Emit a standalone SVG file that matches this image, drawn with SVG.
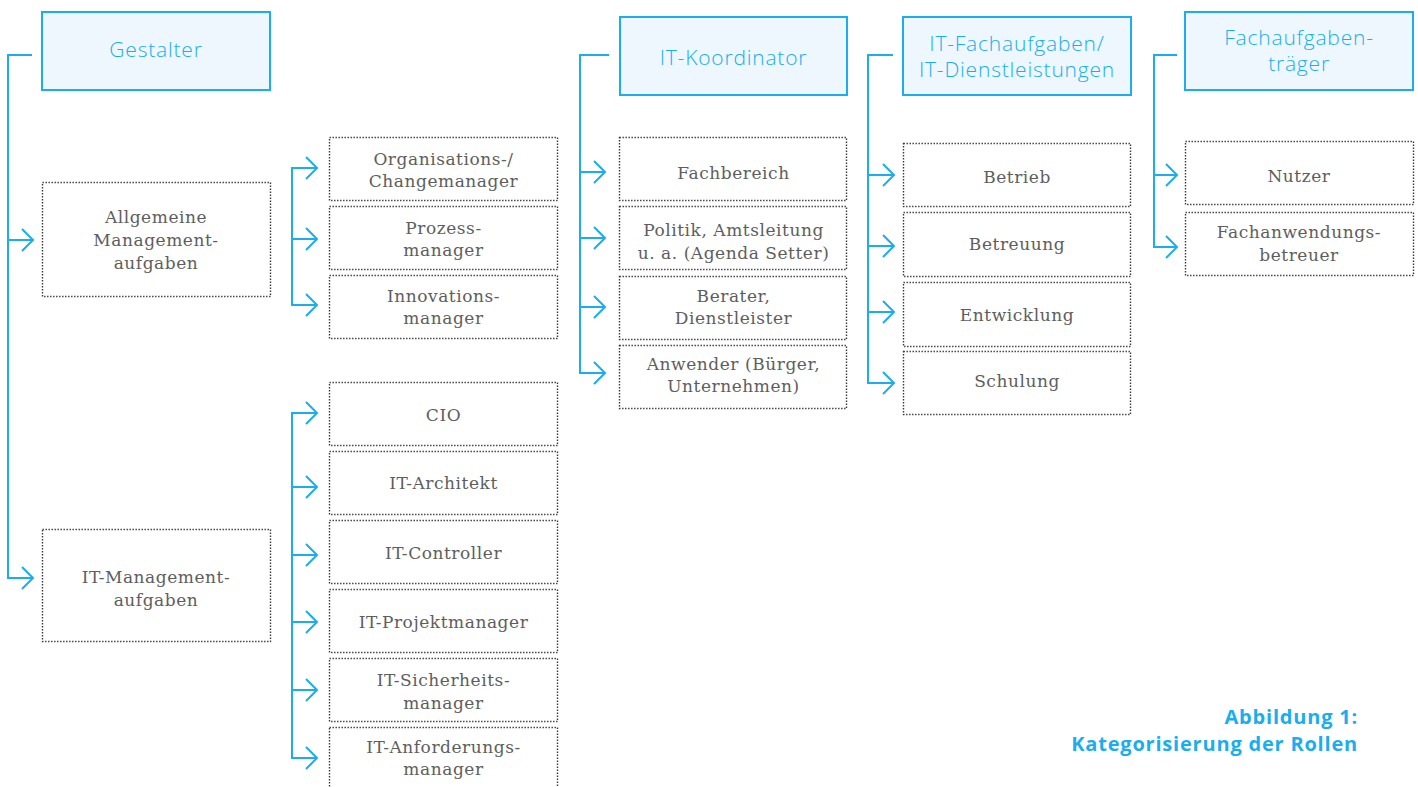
<svg xmlns="http://www.w3.org/2000/svg" width="1418" height="787" viewBox="0 0 1418 787">
<style>
.hdr rect{fill:#eef7fd;stroke:#1badee;stroke-width:2}
.hdr text{font-family:"Open Sans","Lato",sans-serif;font-weight:300;font-size:21px;letter-spacing:0.8px;fill:#1badee;text-anchor:middle}
.sub rect{fill:#fff;stroke:#3a3a3a;stroke-width:1.4;stroke-dasharray:1.4 1.6}
.sub text{font-family:"DejaVu Serif","Liberation Serif",serif;font-size:17px;letter-spacing:0.55px;fill:#5e5e5e;text-anchor:middle}
#connectors path{fill:none;stroke:#1badee;stroke-width:2}
.cap{font-family:"Open Sans","Lato",sans-serif;font-weight:700;font-size:20px;letter-spacing:0.8px;fill:#1badee;text-anchor:end}
</style>
<defs>
<marker id="arr" markerUnits="userSpaceOnUse" markerWidth="14" markerHeight="26" refX="12" refY="12" orient="auto" viewBox="0 0 14 26">
<path d="M1,1 L12,12 L1,23" fill="none" stroke="#1badee" stroke-width="2"/>
</marker>
</defs>
<rect width="1418" height="787" fill="#fff"/>

<g id="connectors">
<path d="M32,55 H8 V578 H33" marker-end="url(#arr)"/>
<path d="M8,240 H33" marker-end="url(#arr)"/>
<path d="M317,168 H292 V305 H317" marker-end="url(#arr)"/>
<path d="M292,168 H317" marker-end="url(#arr)"/>
<path d="M292,239 H317" marker-end="url(#arr)"/>
<path d="M317,413 H292 V758 H317" marker-end="url(#arr)"/>
<path d="M292,413 H317" marker-end="url(#arr)"/>
<path d="M292,487 H317" marker-end="url(#arr)"/>
<path d="M292,555 H317" marker-end="url(#arr)"/>
<path d="M292,622 H317" marker-end="url(#arr)"/>
<path d="M292,690 H317" marker-end="url(#arr)"/>
<path d="M609,55 H580 V373 H605" marker-end="url(#arr)"/>
<path d="M580,172 H605" marker-end="url(#arr)"/>
<path d="M580,238 H605" marker-end="url(#arr)"/>
<path d="M580,307 H605" marker-end="url(#arr)"/>
<path d="M893,55 H868 V383 H894" marker-end="url(#arr)"/>
<path d="M868,175 H894" marker-end="url(#arr)"/>
<path d="M868,246 H894" marker-end="url(#arr)"/>
<path d="M868,312 H894" marker-end="url(#arr)"/>
<path d="M1177,55 H1154 V247 H1177" marker-end="url(#arr)"/>
<path d="M1154,175 H1177" marker-end="url(#arr)"/>
</g>

<g id="gestalter" class="hdr"><rect x="42" y="12" width="228" height="78"/><text x="156" y="57">Gestalter</text></g>
<g id="it-koordinator" class="hdr"><rect x="620" y="17" width="227" height="78"/><text x="733.5" y="65">IT-Koordinator</text></g>
<g id="it-fachaufgaben" class="hdr"><rect x="903" y="17" width="228" height="78"/><text x="1017" y="51">IT-Fachaufgaben/</text><text x="1017" y="77">IT-Dienstleistungen</text></g>
<g id="fachaufgabentraeger" class="hdr"><rect x="1185" y="12" width="228" height="78"/><text x="1299" y="45">Fachaufgaben-</text><text x="1299" y="71">träger</text></g>

<g id="allgemeine" class="sub"><rect x="42.5" y="182.5" width="228" height="114"/><text x="156" y="223">Allgemeine</text><text x="156" y="246">Management-</text><text x="156" y="269">aufgaben</text></g>
<g id="it-management" class="sub"><rect x="42.5" y="529.5" width="228" height="112"/><text x="156" y="583">IT-Management-</text><text x="156" y="606">aufgaben</text></g>

<g id="org" class="sub"><rect x="329.5" y="137.5" width="228" height="63"/><text x="443.5" y="165">Organisations-/</text><text x="443.5" y="187">Changemanager</text></g>
<g id="prozess" class="sub"><rect x="329.5" y="206.5" width="228" height="63"/><text x="443.5" y="234">Prozess-</text><text x="443.5" y="256">manager</text></g>
<g id="innovation" class="sub"><rect x="329.5" y="275.5" width="228" height="63"/><text x="443.5" y="302">Innovations-</text><text x="443.5" y="324">manager</text></g>

<g id="cio" class="sub"><rect x="329.5" y="382.5" width="228" height="63"/><text x="443.5" y="421">CIO</text></g>
<g id="it-architekt" class="sub"><rect x="329.5" y="451.5" width="228" height="63"/><text x="443.5" y="489">IT-Architekt</text></g>
<g id="it-controller" class="sub"><rect x="329.5" y="520.5" width="228" height="63"/><text x="443.5" y="559">IT-Controller</text></g>
<g id="it-projektmanager" class="sub"><rect x="329.5" y="589.5" width="228" height="63"/><text x="443.5" y="628">IT-Projektmanager</text></g>
<g id="it-sicherheit" class="sub"><rect x="329.5" y="658.5" width="228" height="63"/><text x="443.5" y="686">IT-Sicherheits-</text><text x="443.5" y="709">manager</text></g>
<g id="it-anforderung" class="sub"><rect x="329.5" y="727.5" width="228" height="64"/><text x="443.5" y="753">IT-Anforderungs-</text><text x="443.5" y="775">manager</text></g>

<g id="fachbereich" class="sub"><rect x="619.5" y="137.5" width="227" height="63"/><text x="733.5" y="179">Fachbereich</text></g>
<g id="politik" class="sub"><rect x="619.5" y="206.5" width="227" height="63"/><text x="733.5" y="236">Politik, Amtsleitung</text><text x="733.5" y="259">u. a. (Agenda Setter)</text></g>
<g id="berater" class="sub"><rect x="619.5" y="276.5" width="227" height="63"/><text x="733.5" y="302">Berater,</text><text x="733.5" y="324">Dienstleister</text></g>
<g id="anwender" class="sub"><rect x="619.5" y="345.5" width="227" height="63"/><text x="733.5" y="370">Anwender (Bürger,</text><text x="733.5" y="392">Unternehmen)</text></g>

<g id="betrieb" class="sub"><rect x="903.5" y="143.5" width="227" height="63"/><text x="1017" y="183">Betrieb</text></g>
<g id="betreuung" class="sub"><rect x="903.5" y="212.5" width="227" height="64"/><text x="1017" y="250">Betreuung</text></g>
<g id="entwicklung" class="sub"><rect x="903.5" y="282.5" width="227" height="64"/><text x="1017" y="321">Entwicklung</text></g>
<g id="schulung" class="sub"><rect x="903.5" y="351.5" width="227" height="63"/><text x="1017" y="387">Schulung</text></g>

<g id="nutzer" class="sub"><rect x="1185.5" y="141.5" width="228" height="63"/><text x="1299" y="182">Nutzer</text></g>
<g id="fachanwendung" class="sub"><rect x="1185.5" y="212.5" width="228" height="63"/><text x="1299" y="238">Fachanwendungs-</text><text x="1299" y="261">betreuer</text></g>

<g id="caption"><text class="cap" x="1358" y="724">Abbildung 1:</text><text class="cap" x="1358" y="751">Kategorisierung der Rollen</text></g>
</svg>
